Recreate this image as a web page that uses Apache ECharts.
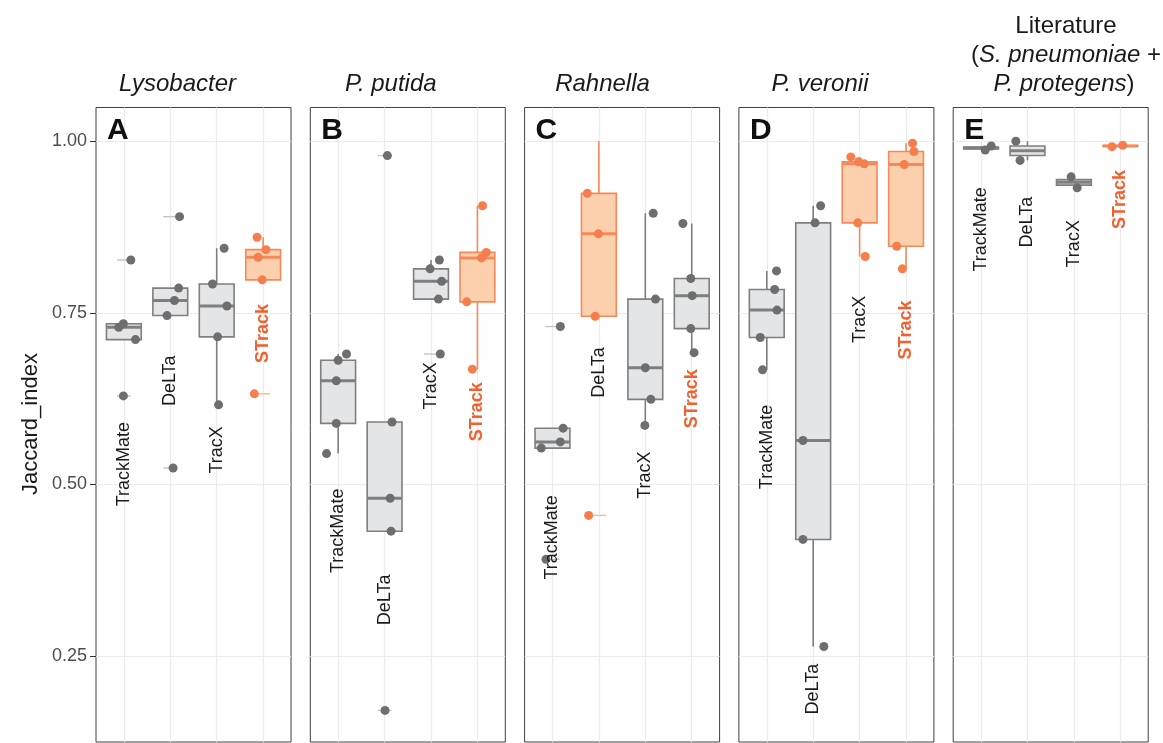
<!DOCTYPE html>
<html>
<head>
<meta charset="utf-8">
<script src="https://cdn.jsdelivr.net/npm/echarts@6/dist/echarts.min.js"></script>
<style>html,body{margin:0;padding:0;background:#fff}#c{width:1163px;height:743px}</style>
</head>
<body>
<div id="c"></div>
<script>
// ---------------- DATA ----------------
const panelTitles = ['Lysobacter', 'P. putida', 'Rahnella', 'P. veronii', 'Literature'];
const panelLetters = ['A', 'B', 'C', 'D', 'E'];
const methods = ['TrackMate', 'DeLTa', 'TracX', 'STrack'];
const yTicks = [0.25, 0.5, 0.75, 1.0];
const yTickLabels = ['0.25', '0.50', '0.75', '1.00'];
const yMin = 0.125, yMax = 1.049;

// jittered points per method (values) and horizontal jitter (category units)
const pointsA = [[0.827, 0.729, 0.734, 0.711, 0.629], [0.890, 0.786, 0.768, 0.746, 0.524], [0.844, 0.792, 0.760, 0.715, 0.616], [0.860, 0.842, 0.831, 0.798, 0.632]];
const jitterA = [[0.15, -0.11, -0.01, 0.25, -0.01], [0.20, 0.18, 0.09, -0.07, 0.06], [0.16, -0.09, 0.22, 0.02, 0.04], [-0.13, 0.06, -0.11, -0.02, -0.19]];
const pointsB = [[0.690, 0.681, 0.651, 0.589, 0.545], [0.979, 0.591, 0.480, 0.432, 0.171], [0.827, 0.814, 0.796, 0.770, 0.690], [0.906, 0.838, 0.830, 0.766, 0.668]];
const jitterB = [[0.18, 0.00, -0.04, -0.04, -0.25], [0.06, 0.16, 0.12, 0.14, 0.01], [0.18, -0.02, 0.23, 0.16, 0.20], [0.11, 0.19, 0.09, -0.23, -0.11]];
const pointsC = [[0.730, 0.582, 0.562, 0.553, 0.391], [0.924, 0.865, 0.745, 0.455], [0.895, 0.770, 0.670, 0.624, 0.586], [0.880, 0.800, 0.775, 0.727, 0.692]];
const jitterC = [[0.17, 0.23, 0.17, -0.24, -0.14], [-0.25, -0.01, -0.08, -0.22], [0.17, 0.22, 0.00, 0.12, -0.01], [-0.19, -0.02, 0.01, -0.02, 0.05]];
const pointsD = [[0.811, 0.784, 0.754, 0.714, 0.667], [0.906, 0.881, 0.564, 0.420, 0.264], [0.977, 0.970, 0.967, 0.881, 0.832], [0.997, 0.985, 0.966, 0.847, 0.814]];
const jitterD = [[0.21, 0.17, 0.22, -0.14, -0.09], [0.16, 0.04, -0.22, -0.22, 0.23], [-0.19, -0.02, 0.10, -0.04, 0.12], [0.14, 0.17, -0.04, -0.20, -0.08]];
const pointsE = [[0.993, 0.987], [1.000, 0.972], [0.948, 0.932], [0.992, 0.994]];
const jitterE = [[0.22, 0.09], [-0.25, -0.16], [-0.06, 0.07], [-0.18, 0.05]];

// box statistics per method: [lower whisker, Q1, median, Q3, upper whisker]
const boxA = [[0.711, 0.711, 0.729, 0.734, 0.734], [0.746, 0.746, 0.768, 0.786, 0.786], [0.616, 0.715, 0.760, 0.792, 0.844], [0.798, 0.798, 0.831, 0.842, 0.860]];
const boxB = [[0.545, 0.589, 0.651, 0.681, 0.690], [0.432, 0.432, 0.480, 0.591, 0.591], [0.770, 0.770, 0.796, 0.814, 0.827], [0.668, 0.766, 0.830, 0.838, 0.906]];
const boxC = [[0.553, 0.553, 0.562, 0.582, 0.582], [0.745, 0.745, 0.865, 0.924, 1.000], [0.586, 0.624, 0.670, 0.770, 0.895], [0.692, 0.727, 0.775, 0.800, 0.880]];
const boxD = [[0.667, 0.714, 0.754, 0.784, 0.811], [0.264, 0.420, 0.564, 0.881, 0.906], [0.832, 0.881, 0.967, 0.970, 0.977], [0.814, 0.847, 0.966, 0.985, 0.997]];
const boxE = [[0.987, 0.9885, 0.990, 0.9915, 0.993], [0.972, 0.979, 0.986, 0.993, 1.000], [0.932, 0.936, 0.940, 0.944, 0.948], [0.992, 0.9925, 0.993, 0.9935, 0.994]];

// best method(s) per panel (orange)
const highlightA = [0, 0, 0, 1];
const highlightB = [0, 0, 0, 1];
const highlightC = [0, 1, 0, 0];
const highlightD = [0, 0, 1, 1];
const highlightE = [0, 0, 0, 1];

// y value of the top end of each vertical method label
const labelTopA = [0.591, 0.688, 0.585, 0.763];
const labelTopB = [0.494, 0.369, 0.678, 0.649];
const labelTopC = [0.4845, 0.700, 0.548, 0.668];
const labelTopD = [0.616, 0.239, 0.775, 0.768];
const labelTopE = [0.933, 0.919, 0.885, 0.958];

// ---------------- BUILD ----------------
const panelPoints = [pointsA, pointsB, pointsC, pointsD, pointsE];
const panelJitter = [jitterA, jitterB, jitterC, jitterD, jitterE];
const panelBoxes = [boxA, boxB, boxC, boxD, boxE];
const panelHighlight = [highlightA, highlightB, highlightC, highlightD, highlightE];
const panelLabelTop = [labelTopA, labelTopB, labelTopC, labelTopD, labelTopE];

const FONT = '"Liberation Sans", Arial, Helvetica, sans-serif';
const GREY_FILL = '#e4e5e7', GREY_LINE = '#7f7f7f', GREY_PT = '#6e6e6e', GREY_DASH = '#c4c4c4';
const OR_FILL = '#fdd0ad', OR_LINE = '#f5895a', OR_PT = '#f57e4e', OR_DASH = '#f9b896';
const STRACK_TXT = '#f1602f';
const GRIDC = '#ebebeb';

const left0 = 96, step = 214.3, pw = 195, ptop = 107.5, ph = 634.5;

const grids = [], xAxes = [], yAxes = [], series = [], graphics = [];

for (let p = 0; p < 5; p++) {
  const L = left0 + p * step;
  grids.push({ left: L, top: ptop, width: pw, height: ph, show: true, borderColor: '#404040', borderWidth: 1,
    backgroundColor: 'rgba(0,0,0,0)', containLabel: false, outerBoundsMode: 'none' });
  xAxes.push({ gridIndex: p, type: 'value', min: -0.6, max: 3.6, position: 'bottom',
    axisLine: { show: false, onZero: false }, axisTick: { show: false, customValues: [0, 1, 2, 3] },
    axisLabel: { show: false, customValues: [0, 1, 2, 3] },
    splitLine: { show: true, lineStyle: { color: GRIDC, width: 1.2 } } });
  yAxes.push({ gridIndex: p, type: 'value', min: yMin, max: yMax, position: 'left',
    axisLine: { show: false, onZero: false },
    axisTick: { show: p === 0, length: 6, lineStyle: { color: '#333', width: 1 }, customValues: yTicks },
    axisLabel: { show: p === 0, customValues: yTicks, fontSize: 18, color: '#4d4d4d', margin: 9, fontFamily: FONT,
      formatter: function (v) { for (let k = 0; k < yTicks.length; k++) { if (Math.abs(v - yTicks[k]) < 1e-6) return yTickLabels[k]; } return ''; } },
    splitLine: { show: true, lineStyle: { color: GRIDC, width: 1.2 } } });

  const boxes = panelBoxes[p], hl = panelHighlight[p];
  // boxes
  series.push({ type: 'custom', xAxisIndex: p, yAxisIndex: p, z: 2, silent: true, clip: false,
    encode: { x: 0, y: [1, 2, 3, 4, 5] },
    data: boxes.map((b, i) => [i, b[0], b[1], b[2], b[3], b[4], hl[i]]),
    renderItem: function (params, api) {
      const x = api.value(0);
      const lo = api.value(1), q1 = api.value(2), md = api.value(3), q3 = api.value(4), hi = api.value(5);
      const h = api.value(6) === 1;
      const stroke = h ? OR_LINE : GREY_LINE, fill = h ? OR_FILL : GREY_FILL;
      const pLo = api.coord([x, lo]), pQ1 = api.coord([x, q1]), pMd = api.coord([x, md]), pQ3 = api.coord([x, q3]), pHi = api.coord([x, hi]);
      const hw = api.size([0.75, 0])[0] / 2;
      return { type: 'group', children: [
        { type: 'line', shape: { x1: pHi[0], y1: pHi[1], x2: pQ3[0], y2: pQ3[1] }, style: { stroke: stroke, lineWidth: 1.6 } },
        { type: 'line', shape: { x1: pQ1[0], y1: pQ1[1], x2: pLo[0], y2: pLo[1] }, style: { stroke: stroke, lineWidth: 1.6 } },
        { type: 'rect', shape: { x: pQ3[0] - hw, y: pQ3[1], width: 2 * hw, height: Math.max(pQ1[1] - pQ3[1], 0.5) }, style: { fill: fill, stroke: stroke, lineWidth: 1.6 } },
        { type: 'line', shape: { x1: pMd[0] - hw, y1: pMd[1], x2: pMd[0] + hw, y2: pMd[1] }, style: { stroke: stroke, lineWidth: 3 } }
      ] };
    } });

  // outlier dashes (boxplot outliers, drawn at category centre)
  const dashData = [];
  panelPoints[p].forEach((vals, i) => {
    vals.forEach(v => {
      if (v < boxes[i][0] - 1e-6 || v > boxes[i][4] + 1e-6) {
        dashData.push({ value: [i, v], itemStyle: { color: hl[i] ? OR_DASH : GREY_DASH, opacity: 1 } });
      }
    });
  });
  series.push({ type: 'scatter', xAxisIndex: p, yAxisIndex: p, z: 3, silent: true, symbol: 'rect', symbolSize: [14, 1.4],
    itemStyle: { opacity: 1 }, data: dashData });

  // jittered points
  const ptData = [];
  panelPoints[p].forEach((vals, i) => {
    vals.forEach((v, k) => {
      ptData.push({ value: [i + panelJitter[p][i][k], v], itemStyle: { color: hl[i] ? OR_PT : GREY_PT, opacity: 1 } });
    });
  });
  series.push({ type: 'scatter', xAxisIndex: p, yAxisIndex: p, z: 4, silent: true, symbol: 'circle', symbolSize: 9,
    itemStyle: { opacity: 1 }, data: ptData });

  // vertical method labels
  const lblData = methods.map((m, i) => ({
    value: [i, panelLabelTop[p][i]], name: m,
    label: i === 3 ? { color: STRACK_TXT, fontWeight: 'bold' } : { color: '#1a1a1a', fontWeight: 'normal' }
  }));
  series.push({ type: 'scatter', xAxisIndex: p, yAxisIndex: p, z: 5, silent: true, symbolSize: 2,
    itemStyle: { color: 'rgba(255,255,255,0)', opacity: 1 },
    label: { show: true, position: 'inside', formatter: '{b}', rotate: 90, align: 'right', verticalAlign: 'middle',
      fontSize: 18, fontFamily: FONT, opacity: 1, textBorderWidth: 0 },
    labelLayout: { hideOverlap: false },
    data: lblData });

  // panel letter
  graphics.push({ type: 'text', x: L + 11, y: 130.5, z: 10, silent: true,
    style: { text: panelLetters[p], fill: '#111', fontSize: 30, fontWeight: 'bold', fontFamily: FONT, align: 'left', verticalAlign: 'middle' } });
}

// panel titles
const titleCx = [177.5, 390.8, 602.5, 820];
for (let p = 0; p < 4; p++) {
  graphics.push({ type: 'text', x: titleCx[p], y: 84.6, silent: true,
    style: { text: panelTitles[p], fill: '#1a1a1a', fontSize: 24, fontStyle: 'italic', fontFamily: FONT, align: 'center', verticalAlign: 'middle' } });
}
const richT = {
  n: { fontSize: 24, fontFamily: FONT, fill: '#1a1a1a', fontStyle: 'normal' },
  i: { fontSize: 24, fontFamily: FONT, fill: '#1a1a1a', fontStyle: 'italic' }
};
graphics.push({ type: 'text', x: 1066, y: 26, silent: true,
  style: { text: '{n|' + panelTitles[4] + '}', rich: richT, fontSize: 24, fontFamily: FONT, fill: '#1a1a1a', align: 'center', verticalAlign: 'middle' } });
graphics.push({ type: 'text', x: 1066, y: 55.5, silent: true,
  style: { text: '{n|(}{i|S. pneumoniae}{n| +}', rich: richT, fontSize: 24, fontFamily: FONT, fill: '#1a1a1a', align: 'center', verticalAlign: 'middle' } });
graphics.push({ type: 'text', x: 1064, y: 84.6, silent: true,
  style: { text: '{i|P. protegens}{n|)}', rich: richT, fontSize: 24, fontFamily: FONT, fill: '#1a1a1a', align: 'center', verticalAlign: 'middle' } });

// y axis title
graphics.push({ type: 'text', x: 31, y: 424, rotation: Math.PI / 2, silent: true,
  style: { text: 'Jaccard_index', fill: '#1a1a1a', fontSize: 22, fontFamily: FONT, align: 'center', verticalAlign: 'middle' } });

const chart = echarts.init(document.getElementById('c'), null, { renderer: 'canvas' });
chart.setOption({
  animation: false,
  backgroundColor: '#ffffff',
  grid: grids,
  xAxis: xAxes,
  yAxis: yAxes,
  series: series,
  graphic: { elements: graphics }
});
</script>
</body>
</html>
